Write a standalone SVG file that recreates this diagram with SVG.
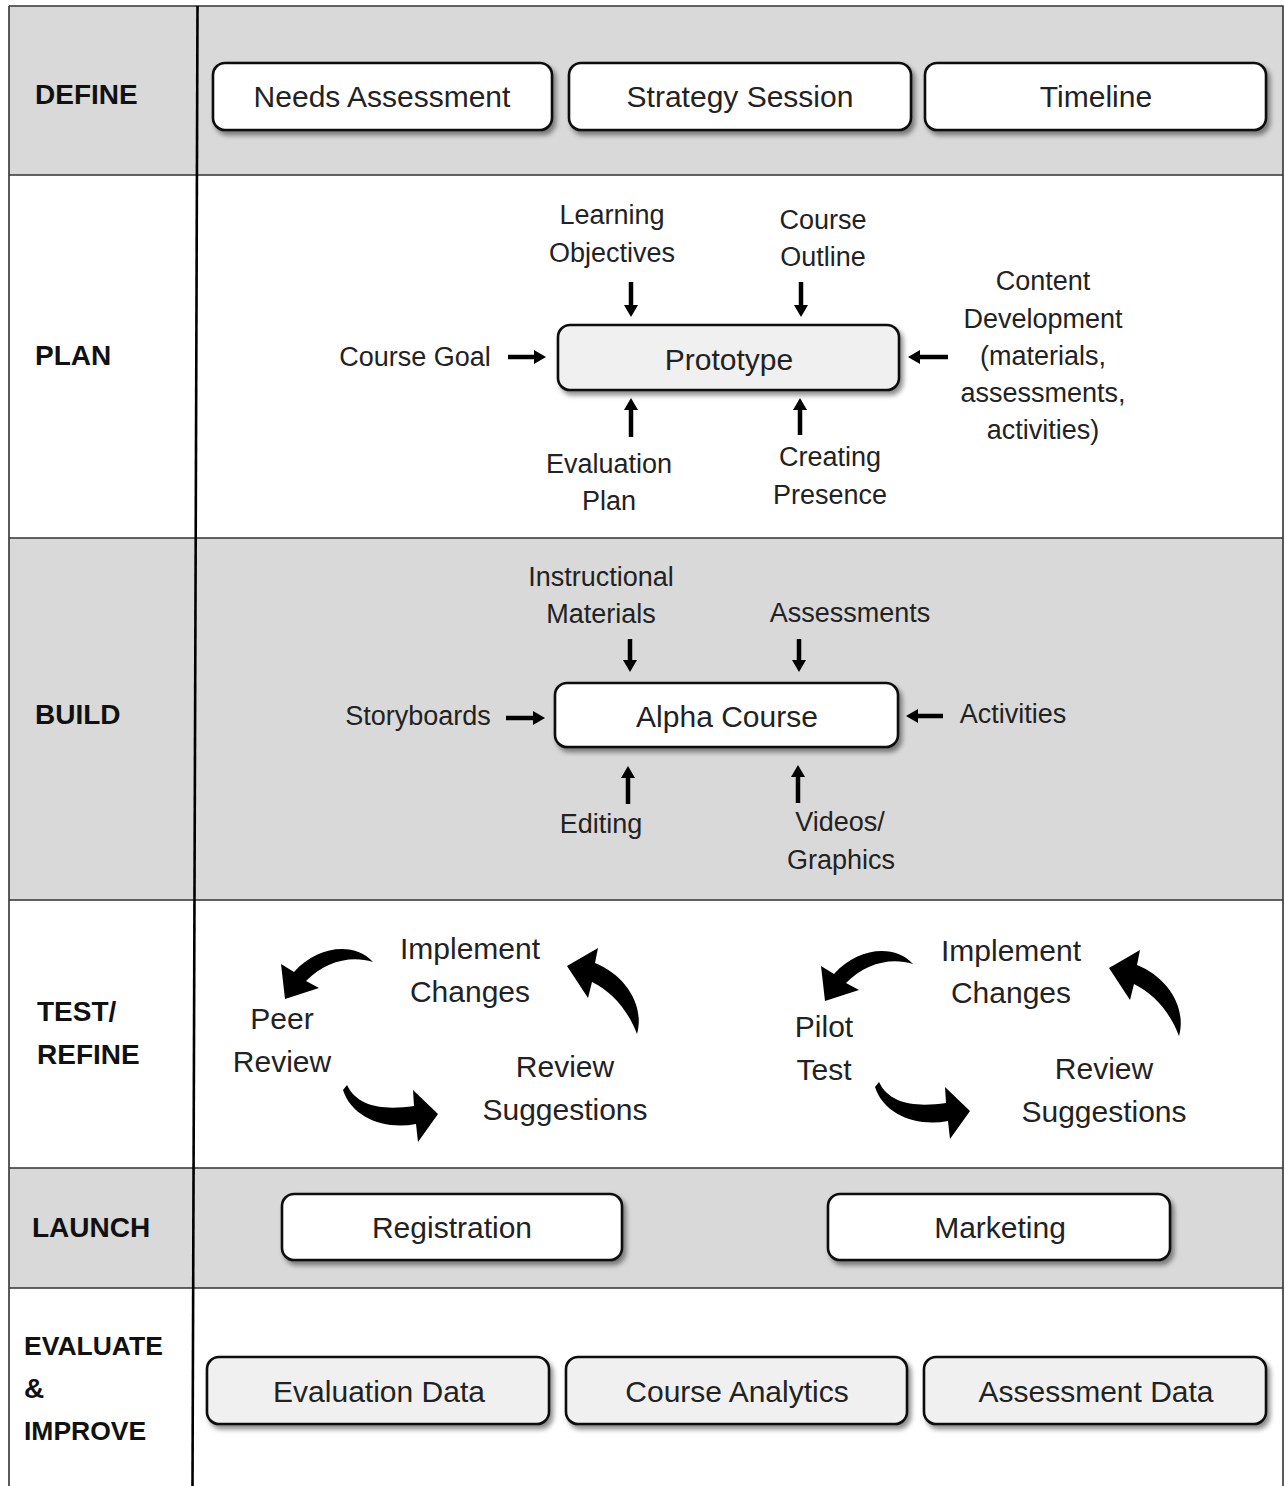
<svg xmlns="http://www.w3.org/2000/svg" width="1285" height="1486" viewBox="0 0 1285 1486">
<style>
.row-gray{fill:#d9d9d9}
.row-white{fill:#ffffff}
.grid{stroke:#333;stroke-width:1.6;fill:none}
.box{stroke:#111;stroke-width:2.6;filter:url(#sh)}
.wb{fill:#ffffff}
.gb{fill:#f0f0f0}
.bt{font-family:"Liberation Sans",Arial,sans-serif;font-size:30px;fill:#222;text-anchor:middle}
.lb{font-family:"Liberation Sans",Arial,sans-serif;font-size:27px;fill:#222;text-anchor:middle}
.tl{font-family:"Liberation Sans",Arial,sans-serif;font-size:30px;fill:#222;text-anchor:middle}
.ph{font-family:"Liberation Sans",Arial,sans-serif;font-size:28px;font-weight:bold;fill:#111}
.ar{stroke:#000;stroke-width:4.5;fill:none;marker-end:url(#ah)}
.cv{fill:#000}
</style>
<defs>
<filter id="sh" x="-10%" y="-20%" width="125%" height="150%">
<feDropShadow dx="3" dy="4" stdDeviation="2.5" flood-color="#000" flood-opacity="0.45"/>
</filter>
<marker id="ah" markerUnits="userSpaceOnUse" markerWidth="16" markerHeight="16" refX="0" refY="7" orient="auto">
<path d="M0,0 L12,7 L0,14 Z" fill="#000"/>
</marker>
<path id="cvA" d="M373,962 C355,942 318,945 294,972 L281,964 L285,999 L319,988 L306,981 C325,962 350,955 373,962 Z"/>
<path id="cvB" d="M347,1085 C358,1108 385,1110 414,1106 L413,1090 L438,1114 L418,1142 L416,1124 C385,1130 352,1118 343,1090 Z"/>
<path id="cvC" d="M637,1034 C645,1005 625,975 595,963 L598,948 L567,966 L588,998 L592,982 C612,992 628,1010 637,1034 Z"/>
</defs>

<g id="rows">
<rect class="row-gray" x="9" y="6" width="1274" height="169"/>
<rect class="row-white" x="9" y="175" width="1274" height="363"/>
<rect class="row-gray" x="9" y="538" width="1274" height="362"/>
<rect class="row-white" x="9" y="900" width="1274" height="268"/>
<rect class="row-gray" x="9" y="1168" width="1274" height="120"/>
<rect class="row-white" x="9" y="1288" width="1274" height="198"/>
<path class="grid" d="M9,6 H1283 V1486 M9,6 V1486 M9,175 H1283 M9,538 H1283 M9,900 H1283 M9,1168 H1283 M9,1288 H1283"/>
<path d="M197.5,6 L192.5,1486" stroke="#000" stroke-width="2.6" fill="none"/>
</g>

<g id="phase-labels">
<text class="ph" x="35" y="104">DEFINE</text>
<text class="ph" x="35" y="365">PLAN</text>
<text class="ph" x="35" y="724">BUILD</text>
<text class="ph" x="37" y="1021">TEST/</text>
<text class="ph" x="37" y="1064">REFINE</text>
<text class="ph" x="32" y="1237">LAUNCH</text>
<text class="ph" x="24" y="1355" style="font-size:26.5px">EVALUATE</text>
<text class="ph" x="24" y="1398">&amp;</text>
<text class="ph" x="24" y="1440" style="font-size:26.5px">IMPROVE</text>
</g>

<g id="needs-assessment"><rect class="box wb" x="213" y="63" width="339" height="67" rx="12"/><text class="bt" x="382" y="107">Needs Assessment</text></g>
<g id="strategy-session"><rect class="box wb" x="569" y="63" width="342" height="67" rx="12"/><text class="bt" x="740" y="107">Strategy Session</text></g>
<g id="timeline"><rect class="box wb" x="925" y="63" width="341" height="67" rx="12"/><text class="bt" x="1096" y="107">Timeline</text></g>

<g id="prototype"><rect class="box gb" x="558" y="325" width="341" height="65" rx="12"/><text class="bt" x="729" y="370">Prototype</text></g>
<g id="learning-objectives"><text class="lb" x="612" y="224">Learning</text><text class="lb" x="612" y="262">Objectives</text></g>
<g id="course-outline"><text class="lb" x="823" y="229">Course</text><text class="lb" x="823" y="266">Outline</text></g>
<g id="course-goal"><text class="lb" x="415" y="366">Course Goal</text></g>
<g id="content-development"><text class="lb" x="1043" y="290">Content</text><text class="lb" x="1043" y="328">Development</text><text class="lb" x="1043" y="365">(materials,</text><text class="lb" x="1043" y="402">assessments,</text><text class="lb" x="1043" y="439">activities)</text></g>
<g id="evaluation-plan"><text class="lb" x="609" y="473">Evaluation</text><text class="lb" x="609" y="510">Plan</text></g>
<g id="creating-presence"><text class="lb" x="830" y="466">Creating</text><text class="lb" x="830" y="504">Presence</text></g>

<g id="alpha-course"><rect class="box wb" x="555" y="683" width="343" height="64" rx="12"/><text class="bt" x="727" y="727">Alpha Course</text></g>
<g id="instructional-materials"><text class="lb" x="601" y="586">Instructional</text><text class="lb" x="601" y="623">Materials</text></g>
<g id="assessments"><text class="lb" x="850" y="622">Assessments</text></g>
<g id="storyboards"><text class="lb" x="418" y="725">Storyboards</text></g>
<g id="activities"><text class="lb" x="1013" y="723">Activities</text></g>
<g id="editing"><text class="lb" x="601" y="833">Editing</text></g>
<g id="videos-graphics"><text class="lb" x="840" y="831">Videos/</text><text class="lb" x="841" y="869">Graphics</text></g>

<g id="peer-review"><text class="tl" x="282" y="1029">Peer</text><text class="tl" x="282" y="1072">Review</text></g>
<g id="implement-changes-1"><text class="tl" x="470" y="959">Implement</text><text class="tl" x="470" y="1002">Changes</text></g>
<g id="review-suggestions-1"><text class="tl" x="565" y="1077">Review</text><text class="tl" x="565" y="1120">Suggestions</text></g>
<g id="pilot-test"><text class="tl" x="824" y="1037">Pilot</text><text class="tl" x="824" y="1080">Test</text></g>
<g id="implement-changes-2"><text class="tl" x="1011" y="961">Implement</text><text class="tl" x="1011" y="1003">Changes</text></g>
<g id="review-suggestions-2"><text class="tl" x="1104" y="1079">Review</text><text class="tl" x="1104" y="1122">Suggestions</text></g>

<g id="registration"><rect class="box wb" x="282" y="1194" width="340" height="66" rx="12"/><text class="bt" x="452" y="1238">Registration</text></g>
<g id="marketing"><rect class="box wb" x="828" y="1194" width="342" height="66" rx="12"/><text class="bt" x="1000" y="1238">Marketing</text></g>

<g id="evaluation-data"><rect class="box gb" x="207" y="1357" width="342" height="67" rx="12"/><text class="bt" x="379" y="1402">Evaluation Data</text></g>
<g id="course-analytics"><rect class="box gb" x="566" y="1357" width="341" height="67" rx="12"/><text class="bt" x="737" y="1402">Course Analytics</text></g>
<g id="assessment-data"><rect class="box gb" x="924" y="1357" width="342" height="67" rx="12"/><text class="bt" x="1096" y="1402">Assessment Data</text></g>

<g id="connectors">
<line class="ar" x1="631" y1="282" x2="631" y2="305"/>
<line class="ar" x1="801" y1="282" x2="801" y2="305"/>
<line class="ar" x1="508" y1="357" x2="534" y2="357"/>
<line class="ar" x1="948" y1="357" x2="920" y2="357"/>
<line class="ar" x1="631" y1="437" x2="631" y2="410"/>
<line class="ar" x1="800" y1="435" x2="800" y2="410"/>
<line class="ar" x1="630" y1="639" x2="630" y2="660"/>
<line class="ar" x1="799" y1="639" x2="799" y2="660"/>
<line class="ar" x1="506" y1="718" x2="533" y2="718"/>
<line class="ar" x1="943" y1="716" x2="918" y2="716"/>
<line class="ar" x1="628" y1="804" x2="628" y2="778"/>
<line class="ar" x1="798" y1="803" x2="798" y2="777"/>
<use href="#cvA" class="cv"/>
<use href="#cvB" class="cv"/>
<use href="#cvC" class="cv"/>
<use href="#cvA" class="cv" transform="translate(540,2)"/>
<use href="#cvB" class="cv" transform="translate(532,-3)"/>
<use href="#cvC" class="cv" transform="translate(542,2)"/>
</g>
</svg>
